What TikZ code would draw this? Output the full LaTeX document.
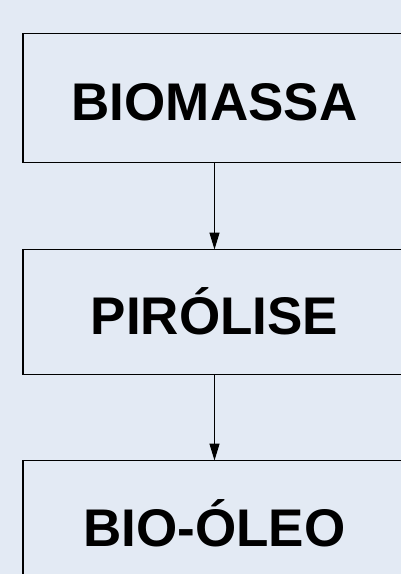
\documentclass[tikz,border=0pt]{standalone}
\usepackage{fontspec}
\setmainfont{Liberation Sans}
\usetikzlibrary{arrows.meta}
\definecolor{bg}{RGB}{227,234,244}
\begin{document}
\begin{tikzpicture}[x=1pt,y=-1pt,
  stagebox/.style={draw=black, line width=1.8pt, rectangle, outer sep=0pt, inner sep=0pt,
    minimum width=383pt, font=\fontsize{53}{60}\selectfont\bfseries,
    text height=44pt, text depth=0pt},
  flow/.style={draw=black, line width=1.3pt, -{Triangle[length=17pt,width=10pt]}}]
\useasboundingbox (0,0) rectangle (401,574);
\fill[bg] (0,0) rectangle (401,574);
\clip (0,0) rectangle (401,574);
\node[stagebox, minimum height=129pt] (bio) at (214.5,98) {BIOMASSA};
\node[stagebox, minimum height=125pt] (pir) at (214.5,312) {PIRÓLISE};
\node[stagebox, minimum height=127pt] (oleo) at (214.5,524) {BIO-ÓLEO};
\draw[flow] (bio.south) -- (pir.north);
\draw[flow] (pir.south) -- (oleo.north);
\end{tikzpicture}
\end{document}
